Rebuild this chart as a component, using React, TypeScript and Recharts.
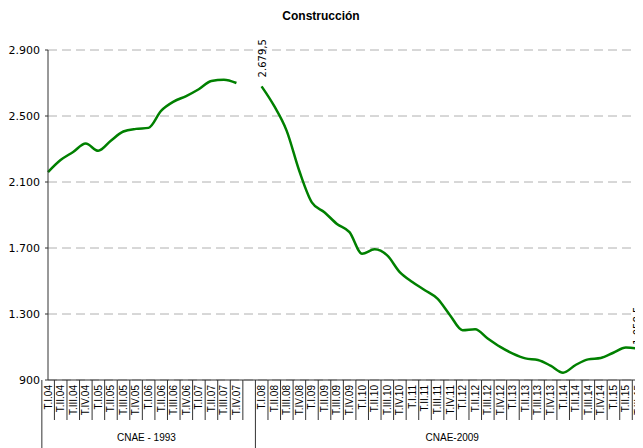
import { CartesianGrid, LabelList, Line, LineChart, XAxis, YAxis } from 'recharts';

const categories1993 = [
  'T.I.04', 'T.II.04', 'T.III.04', 'T.IV.04',
  'T.I.05', 'T.II.05', 'T.III.05', 'T.IV.05',
  'T.I.06', 'T.II.06', 'T.III.06', 'T.IV.06',
  'T.I.07', 'T.II.07', 'T.III.07', 'T.IV.07',
];
const values1993 = [2160, 2233, 2282, 2333, 2289, 2350, 2406, 2422, 2428, 2531, 2587, 2621, 2662, 2712, 2720, 2700];

const categories2009 = [
  'T.I.08', 'T.II.08', 'T.III.08', 'T.IV.08',
  'T.I.09', 'T.II.09', 'T.III.09', 'T.IV.09',
  'T.I.10', 'T.II.10', 'T.III.10', 'T.IV.10',
  'T.I.11', 'T.II.11', 'T.III.11', 'T.IV.11',
  'T.I.12', 'T.II.12', 'T.III.12', 'T.IV.12',
  'T.I.13', 'T.II.13', 'T.III.13', 'T.IV.13',
  'T.I.14', 'T.II.14', 'T.III.14', 'T.IV.14',
  'T.I.15', 'T.II.15', 'T.III.15', 'T.IV.15',
];
const values2009 = [
  2679.5, 2561, 2410, 2168, 1977, 1917, 1846, 1796,
  1665, 1692, 1655, 1554, 1494, 1444, 1393, 1293,
  1202, 1208, 1152, 1101, 1060, 1031, 1021, 987,
  944, 991, 1025, 1033, 1065, 1097, 1088, 1058.5,
];

const yTicks = [900, 1300, 1700, 2100, 2500, 2900];
const groupNames = ['CNAE - 1993', 'CNAE-2009'];

// one empty slot separates the two series
const data = [
  ...categories1993.map((cat, i) => ({ cat, value: values1993[i] as number | null })),
  { cat: ' ', value: null },
  ...categories2009.map((cat, i) => ({ cat, value: values2009[i] as number | null })),
];

const groups = [
  { name: groupNames[0], start: 0, count: categories1993.length + 1 },
  { name: groupNames[1], start: categories1993.length + 1, count: categories2009.length },
];

const labelled = [values2009[0], values2009[values2009.length - 1]];

const fmtThousands = (v: number): string => {
  const [int, dec] = String(v).split('.');
  const grouped = int.replace(/\B(?=(\d{3})+(?!\d))/g, '.');
  return dec ? `${grouped},${dec}` : grouped;
};

const CategoryTick = (props: any) => {
  const { x, y, payload, index } = props;
  const half = payload.offset || 6.15;
  const left = x - half;
  const group = groups.find((g) => g.start === index);
  return (
    <g>
      <line x1={left} x2={left} y1={y} y2={y + (group ? 68 : 40)} stroke="#333" strokeWidth={1} />
      <text
        transform={`translate(${x + 3.5},${y + 5}) rotate(-90)`}
        textAnchor="end"
        fontSize={10}
        fontFamily="'Liberation Sans', Arial, sans-serif"
        fill="#000"
      >
        {payload.value}
      </text>
      {group && (
        <text
          x={left + group.count * half}
          y={y + 61}
          textAnchor="middle"
          fontSize={10}
          fontFamily="'Liberation Sans', Arial, sans-serif"
          fill="#000"
        >
          {group.name}
        </text>
      )}
    </g>
  );
};

// labels are kept inside the visible area, like the spreadsheet does
const PointLabel = (props: any) => {
  const { x, y, value } = props;
  if (value == null || !labelled.includes(value)) return null;
  return (
    <text
      transform={`translate(${Math.min(x + 4, 633)},${y - 9}) rotate(-90)`}
      textAnchor="start"
      fontSize={10}
      fontFamily="'DejaVu Sans', Verdana, sans-serif"
      fill="#000"
    >
      {fmtThousands(value)}
    </text>
  );
};

export default function App() {
  return (
    <div style={{ position: 'relative', width: 635, height: 440, overflow: 'hidden', background: '#fff' }}>
      <div
        style={{
          position: 'absolute',
          top: 1,
          left: 0,
          width: 626,
          textAlign: 'center',
          fontFamily: "'Liberation Sans', Arial, sans-serif",
          fontWeight: 'bold',
          fontSize: 12,
          color: '#000',
        }}
      >
        Construcción
      </div>
      <LineChart width={650} height={440} data={data} margin={{ top: 42, right: 7, bottom: 0, left: 0 }}>
        <CartesianGrid vertical={false} stroke="#b0b0b0" strokeDasharray="9 5" />
        <XAxis
          dataKey="cat"
          interval={0}
          height={68}
          tickSize={0}
          tickMargin={0}
          tick={<CategoryTick />}
          axisLine={{ stroke: '#333' }}
        />
        <YAxis
          domain={[900, 2900]}
          ticks={yTicks}
          width={40}
          tickSize={3}
          tickMargin={5}
          tickFormatter={(v: number) => fmtThousands(v)}
          tick={{ fill: '#000', fontSize: 11, fontFamily: "'DejaVu Sans', Verdana, sans-serif" }}
          axisLine={{ stroke: '#333' }}
          tickLine={{ stroke: '#333' }}
          allowDataOverflow
        />
        <Line
          type="monotone"
          dataKey="value"
          stroke="#008000"
          strokeWidth={2.5}
          dot={false}
          isAnimationActive={false}
        >
          <LabelList dataKey="value" content={<PointLabel />} />
        </Line>
      </LineChart>
    </div>
  );
}
